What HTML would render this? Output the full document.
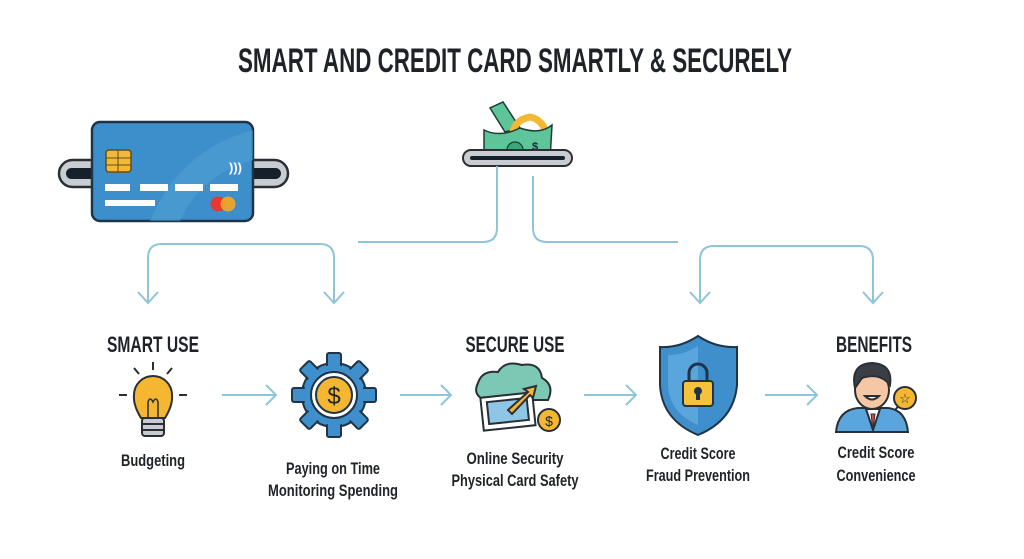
<!DOCTYPE html>
<html><head><meta charset="utf-8"><style>
html,body{margin:0;padding:0;background:#fff;width:1024px;height:559px;overflow:hidden}
text{font-family:"Liberation Sans",sans-serif;fill:#1f2328}
</style></head><body>
<svg width="1024" height="559" viewBox="0 0 1024 559" xmlns="http://www.w3.org/2000/svg">
<text x="238" y="72" font-size="34" font-weight="bold" textLength="554" lengthAdjust="spacingAndGlyphs">SMART AND CREDIT CARD SMARTLY &amp; SECURELY</text>

<rect x="59" y="160" width="229" height="27" rx="13.5" fill="#c9cdd1" stroke="#2a2f35" stroke-width="2.5"/>
<rect x="66" y="168" width="215" height="11" rx="5.5" fill="#15202b"/>
<rect x="92" y="122" width="161" height="99" rx="8" fill="#3d8fcb" stroke="#1f3446" stroke-width="2.5"/>
<path d="M150 221 Q180 150 253 130 L253 160 Q200 175 180 221Z" fill="#55a3d8" opacity="0.5"/>
<rect x="106" y="150" width="25" height="22" rx="3" fill="#f0b93a" stroke="#6b4a10" stroke-width="1.5"/>
<line x1="106" y1="158" x2="131" y2="158" stroke="#6b4a10"/><line x1="106" y1="165" x2="131" y2="165" stroke="#6b4a10"/><line x1="118" y1="150" x2="118" y2="172" stroke="#6b4a10"/>
<text x="229" y="172" font-size="13" font-weight="bold" style="fill:#fff">)))</text>
<rect x="105" y="184" width="25" height="7" fill="#fff"/><rect x="140" y="184" width="28" height="7" fill="#fff"/><rect x="175" y="184" width="28" height="7" fill="#fff"/><rect x="210" y="184" width="28" height="7" fill="#fff"/>
<rect x="105" y="200" width="50" height="6" fill="#fff"/>
<circle cx="218" cy="204" r="7.5" fill="#e8392f"/><circle cx="228" cy="204" r="7.5" fill="#f5a623" opacity="0.9"/>

<path d="M505 132 L490 108 L503 102 L520 128Z" fill="#5ec49a" stroke="#1f3d33" stroke-width="1.5"/>
<path d="M512 140 Q512 120 530 117 Q545 120 548 140" fill="none" stroke="#f2b935" stroke-width="7"/>
<path d="M484 160 L484 130 Q500 138 520 128 Q540 135 552 125 L550 160Z" fill="#5ec49a" stroke="#1f3d33" stroke-width="1.5"/>
<circle cx="515" cy="150" r="8" fill="#3ea67d" stroke="#1f3d33" stroke-width="1.2"/>
<text x="532" y="150" font-size="11" font-weight="bold">$</text>
<rect x="463" y="150" width="109" height="16" rx="8" fill="#c9cdd1" stroke="#2a2f35" stroke-width="2"/>
<rect x="470" y="156" width="95" height="4" rx="2" fill="#15202b"/>

<g fill="none" stroke="#8fc5d8" stroke-width="2">
<path d="M497 166 V228 Q497 242 483 242 H358"/>
<path d="M533 176 V228 Q533 242 547 242 H678"/>
<path d="M148 302 V258 Q148 244 162 244 H320 Q334 244 334 258 V302"/>
<path d="M138 292 L148 303 L158 292 M324 292 L334 303 L344 292"/>
<path d="M700 302 V260 Q700 246 714 246 H859 Q873 246 873 260 V302"/>
<path d="M690 292 L700 303 L710 292 M863 292 L873 303 L883 292"/>
<path d="M222 395 H276 M266 385 L276 395 L266 405"/>
<path d="M400 395 H451 M441 385 L451 395 L441 405"/>
<path d="M584 395 H636 M626 385 L636 395 L626 405"/>
<path d="M765 395 H817 M807 385 L817 395 L807 405"/>
</g>

<text x="153" y="352" font-size="22" font-weight="bold" text-anchor="middle" textLength="92" lengthAdjust="spacingAndGlyphs">SMART USE</text>
<text x="515" y="352" font-size="22" font-weight="bold" text-anchor="middle" textLength="99" lengthAdjust="spacingAndGlyphs">SECURE USE</text>
<text x="874" y="352" font-size="22" font-weight="bold" text-anchor="middle" textLength="76" lengthAdjust="spacingAndGlyphs">BENEFITS</text>

<g stroke="#2a2f35" stroke-width="2">
<line x1="153" y1="362" x2="153" y2="370"/><line x1="134" y1="368" x2="139" y2="374"/><line x1="172" y1="368" x2="167" y2="374"/>
<line x1="119" y1="395" x2="127" y2="395"/><line x1="179" y1="395" x2="187" y2="395"/>
<path d="M141 418 Q133 405 134 395 A19 19 0 1 1 172 395 Q173 405 165 418Z" fill="#f5b731"/>
<rect x="142" y="418" width="22" height="18" rx="3" fill="#c8ccd0"/>
<path d="M143 424 H163 M143 430 H163" fill="none"/>
<path d="M148 418 V402 Q150 396 153 402 Q156 396 158 402 V418" fill="none" stroke-width="1.5"/>
</g>
<g transform="translate(334 395)">
<g fill="#3f8fcc" stroke="#1f3446" stroke-width="2">
<circle r="32"/>
<g id="t"><rect x="-7" y="-42" width="14" height="14" rx="2"/></g>
<use href="#t" transform="rotate(45)"/><use href="#t" transform="rotate(90)"/><use href="#t" transform="rotate(135)"/><use href="#t" transform="rotate(180)"/><use href="#t" transform="rotate(225)"/><use href="#t" transform="rotate(270)"/><use href="#t" transform="rotate(315)"/>
</g>
<circle r="30" fill="#3f8fcc"/>
<circle r="23" fill="#fff" stroke="#1f3446" stroke-width="2"/>
<circle r="18" fill="#f5b731" stroke="#1f3446" stroke-width="2"/>
<text y="9" font-size="24" text-anchor="middle">$</text>
</g>
<g stroke="#2a2f35" stroke-width="2">
<path d="M485 400 Q472 395 478 383 Q482 370 498 372 Q505 360 522 365 Q540 362 542 378 Q555 385 548 400Z" fill="#7cc8b4"/>
<rect x="482" y="395" width="52" height="33" fill="#fff" transform="rotate(-6 508 412)"/>
<rect x="488" y="400" width="40" height="22" fill="#8ec6e6" transform="rotate(-6 508 412)"/>
<path d="M508 410 L528 392 L524 389 L536 386 L533 398 L530 395 L512 414Z" fill="#f5b731"/>
<circle cx="549" cy="420" r="11" fill="#f5b731"/>
</g>
<text x="549" y="426" font-size="14" text-anchor="middle">$</text>
<g stroke="#1f3446" stroke-width="2">
<path d="M698 336 Q680 348 660 347 V385 Q662 420 698 435 Q734 420 737 385 V347 Q716 348 698 336Z" fill="#3f8fcc"/>
<path d="M698 346 Q684 355 668 355 V386 Q670 413 698 425Z" fill="#5aa6dc" stroke="none"/>
<path d="M689 382 V373 A9 9 0 0 1 707 373 V382" fill="none" stroke-width="3"/>
<rect x="683" y="381" width="30" height="25" rx="3" fill="#f5c33b"/>
<circle cx="698" cy="391" r="3" fill="#1f3446"/><rect x="697" y="392" width="2" height="7" fill="#1f3446"/>
</g>
<g stroke="#2a2f35" stroke-width="2">
<path d="M836 432 Q838 410 858 408 H888 Q906 410 908 432Z" fill="#5aa6dc"/>
<path d="M866 409 L873 430 L880 409Z" fill="#fff"/>
<path d="M871 414 L873 430 L875 414Z" fill="#d8463a" stroke-width="1"/>
<ellipse cx="872" cy="390" rx="17" ry="19" fill="#f6c7a4"/>
<path d="M855 388 Q850 364 872 363 Q893 364 890 385 Q880 372 862 378Z" fill="#3a3f45"/>
<path d="M865 396 Q872 403 879 396Z" fill="#fff"/>
<line x1="895" y1="410" x2="902" y2="402"/>
<circle cx="905" cy="398" r="11" fill="#f5b731"/>
</g>
<text x="905" y="403" font-size="13" text-anchor="middle">☆</text>

<g font-size="17" font-weight="bold" text-anchor="middle" style="fill:#2a2f35">
<text x="153" y="466" textLength="64" lengthAdjust="spacingAndGlyphs">Budgeting</text>
<text x="333" y="474" textLength="94" lengthAdjust="spacingAndGlyphs">Paying on Time</text>
<text x="333" y="496" textLength="130" lengthAdjust="spacingAndGlyphs">Monitoring Spending</text>
<text x="515" y="464" textLength="97" lengthAdjust="spacingAndGlyphs">Online Security</text>
<text x="515" y="486" textLength="127" lengthAdjust="spacingAndGlyphs">Physical Card Safety</text>
<text x="698" y="459" textLength="75" lengthAdjust="spacingAndGlyphs">Credit Score</text>
<text x="698" y="481" textLength="104" lengthAdjust="spacingAndGlyphs">Fraud Prevention</text>
<text x="876" y="458" textLength="77" lengthAdjust="spacingAndGlyphs">Credit Score</text>
<text x="876" y="481" textLength="79" lengthAdjust="spacingAndGlyphs">Convenience</text>
</g>
</svg>
</body></html>
